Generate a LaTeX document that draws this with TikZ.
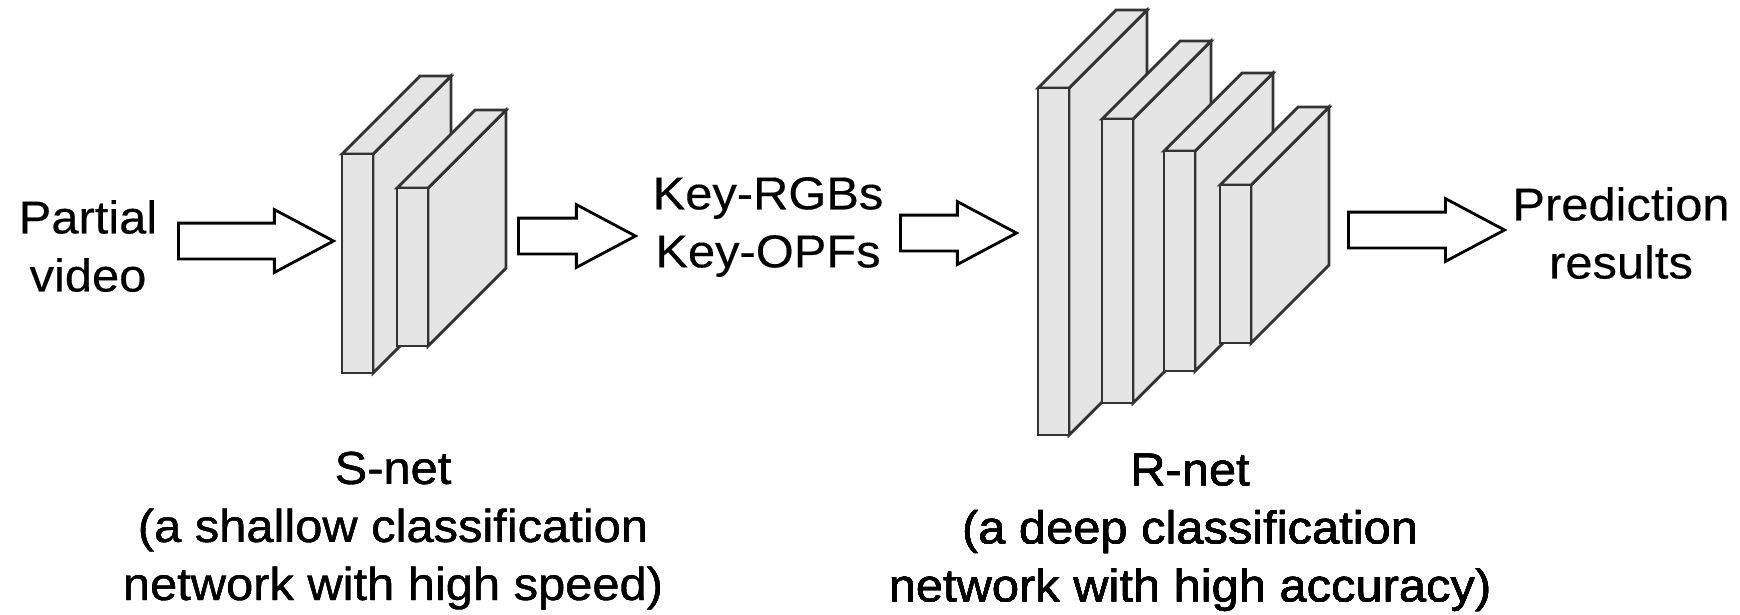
\documentclass[tikz,border=0pt]{standalone}
\usepackage{fontspec}
\setmainfont{Liberation Sans}[FakeStretch=1.06, FakeBold=0.3]
\usetikzlibrary{shapes.arrows}

\tikzset{
  slab/.style={draw=black!80, fill=black!10, line width=0.8pt},
  fatarrow/.style={single arrow, draw=black, line width=0.8pt, fill=white,
    inner xsep=0pt, inner ysep=0.165cm, text height=0pt, text depth=0pt,
    single arrow head extend=0.135cm, single arrow tip angle=56, anchor=tail},
  lbl/.style={align=center, inner sep=0pt, font=\fontsize{13.1}{16.5}\selectfont}
}
% one layer: x of front face, top and bottom of front face
\newcommand{\convslab}[3]{%
  \draw[slab] (#1+31,#2) -- (#1+109,#2-78) -- (#1+109,#3-78) -- (#1+31,#3) -- cycle;
  \draw[slab] (#1,#2) -- (#1+78,#2-78) -- (#1+109,#2-78) -- (#1+31,#2) -- cycle;
  \draw[slab] (#1,#2) rectangle (#1+31,#3);
}

\begin{document}
\begin{tikzpicture}[x=0.01cm, y=-0.01cm]
\useasboundingbox (0,0) rectangle (1740,614);

% Input
\node[lbl] (video) at (88,246) {Partial\\video};
\node[fatarrow, minimum height=1.55cm] (arr1) at (177,241) {};

% S-net
\foreach \x/\t/\b in {342/154/373, 397/188/346}
  \convslab{\x}{\t}{\b}
\node[lbl, anchor=north] (snet) at (393,451)
  {S-net\\(a shallow classification\\network with high speed)};

\node[fatarrow, minimum height=1.17cm] (arr2) at (517,236) {};
\node[lbl] (keys) at (768,227) {Key-RGBs\\Key-OPFs};
\node[fatarrow, minimum height=1.16cm] (arr3) at (899,233) {};

% R-net
\foreach \x/\t/\b in {1038/88/435, 1102/119/403, 1164/151/371, 1220/185/343}
  \convslab{\x}{\t}{\b}
\node[lbl, anchor=north] (rnet) at (1190,453)
  {R-net\\(a deep classification\\network with high accuracy)};

% Output
\node[fatarrow, minimum height=1.56cm] (arr4) at (1347,230) {};
\node[lbl] (result) at (1621,233) {Prediction\\results};
\end{tikzpicture}
\end{document}
